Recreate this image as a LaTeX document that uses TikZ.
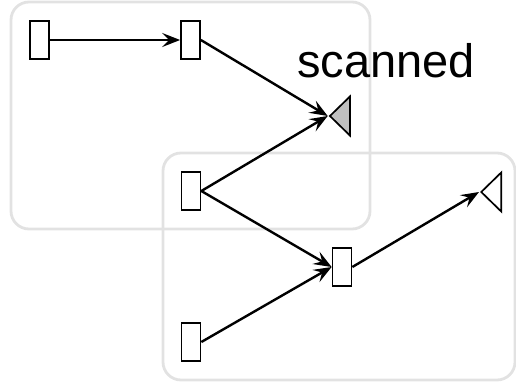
\documentclass[tikz,border=0pt]{standalone}
\usepackage{fontspec}
\setmainfont{Liberation Sans}
\usetikzlibrary{arrows.meta,shapes.geometric}
\definecolor{groupgray}{HTML}{E2E2E2}
\definecolor{fillgray}{HTML}{C0C0C0}
\tikzset{
  groupbox/.style={draw=groupgray,line width=2.8pt,rounded corners=18pt},
  unit/.style={draw,rectangle,line width=1.7pt,minimum width=19pt,minimum height=38pt,inner sep=0pt},
  sink/.style={draw,isosceles triangle,isosceles triangle stretches,shape border rotate=180,
    line width=1.7pt,minimum height=20pt,minimum width=39pt,inner sep=0pt},
  link/.style={line width=2.4pt,-{Stealth[length=18pt,width=14pt,inset=7pt]}},
}
\begin{document}
\begin{tikzpicture}[x=1pt,y=-1pt]
\useasboundingbox (0,0) rectangle (516,385);
% two groups
\draw[groupbox] (11,2) rectangle (370,229);
\draw[groupbox] (163,153) rectangle (515,380);
% units
\node[unit] (a) at (39.5,40) {};
\node[unit] (b) at (190.5,40) {};
\node[unit] (c) at (191,191) {};
\node[unit] (d) at (342,267) {};
\node[unit] (e) at (191,342) {};
% sinks
\node[sink,fill=fillgray] (s1) at (341.7,116) {};
\node[sink,fill=white] (s2) at (493,192) {};
\node[anchor=base,font=\fontsize{47}{50}\selectfont,inner sep=0pt] (lbl) at (386,78) {scanned};
% links
\draw[link] (a.east) -- (b.west);
\draw[link] (b.east) -- (s1.apex);
\draw[link] (c.east) -- (s1.apex);
\draw[link] (c.east) -- (d.west);
\draw[link] (e.east) -- (d.west);
\draw[link] (d.east) -- (s2.apex);
\end{tikzpicture}
\end{document}
